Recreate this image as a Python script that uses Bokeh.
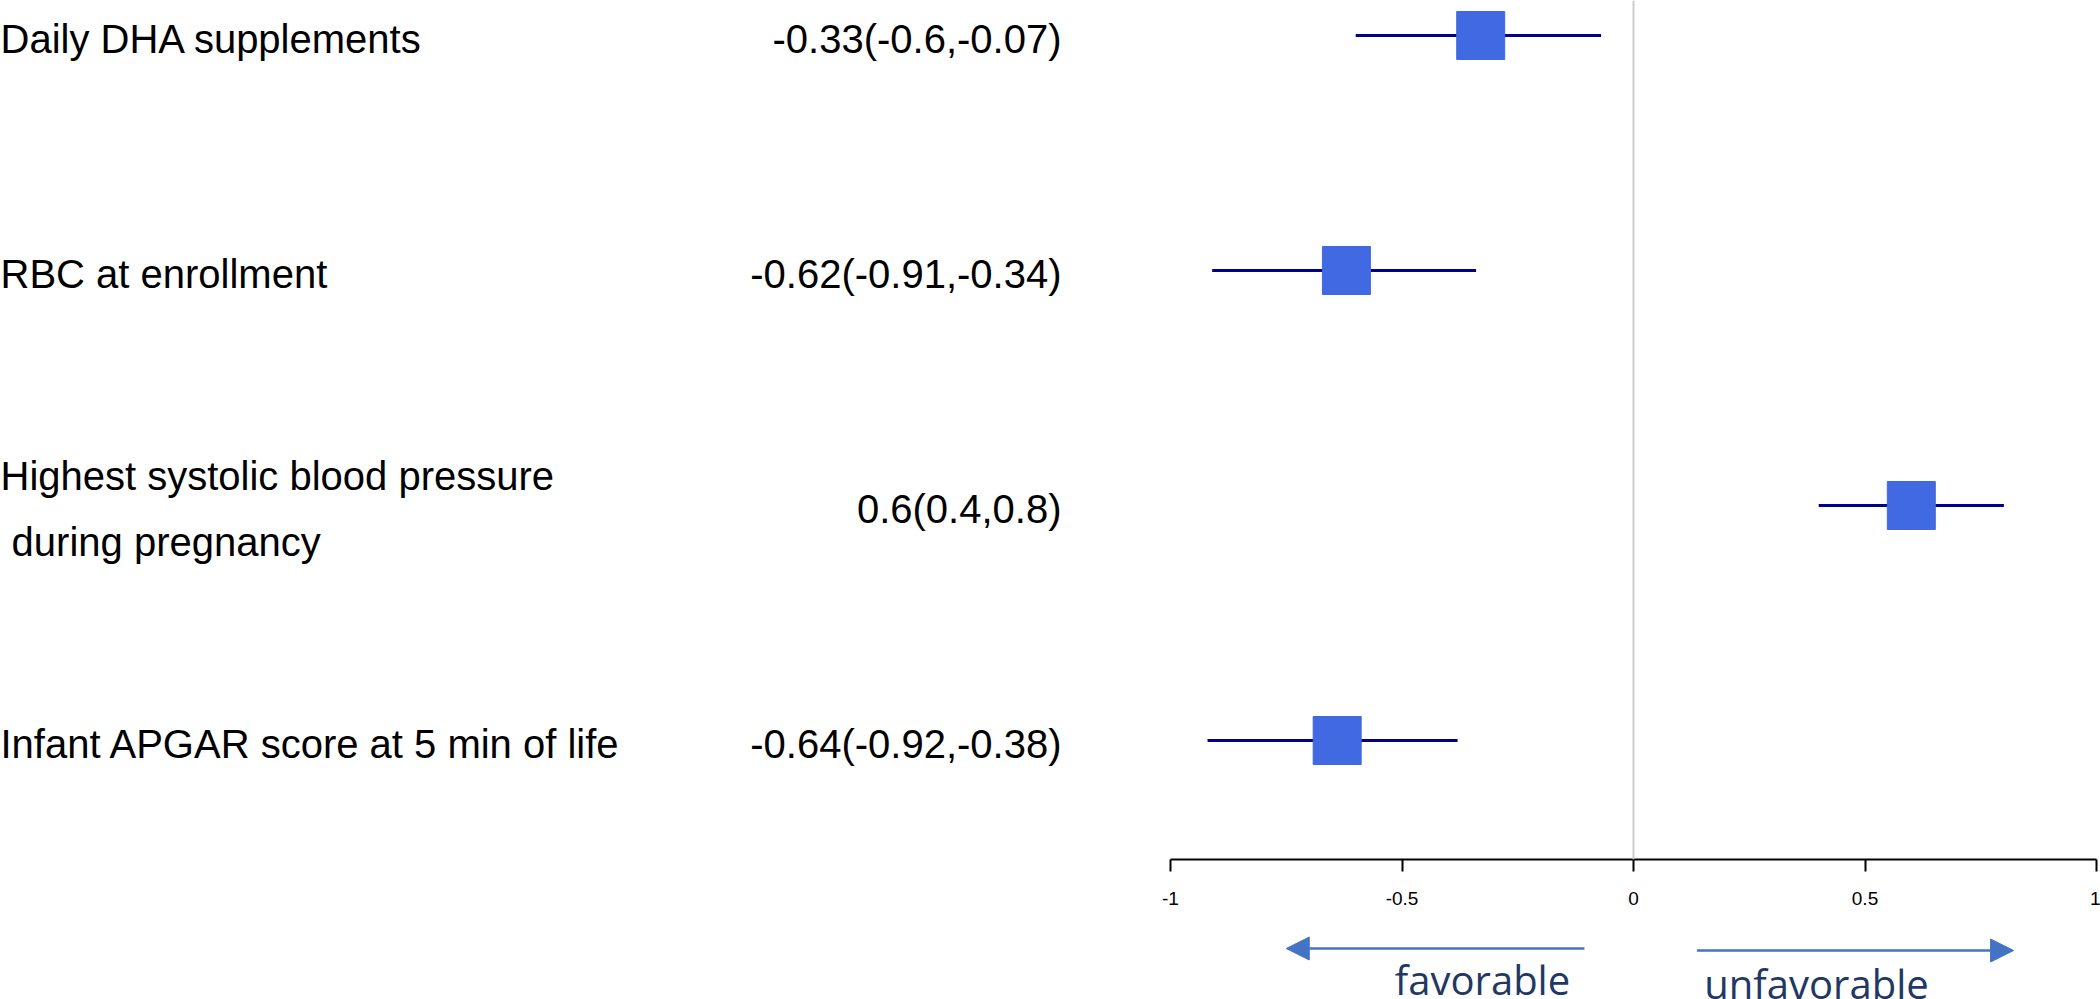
from bokeh.plotting import figure
from bokeh.layouts import column
from bokeh.models import Range1d, FixedTicker, Span, Arrow, NormalHead, Label, ColumnDataSource
from bokeh.core.properties import value
from bokeh.embed import file_html
from bokeh.resources import INLINE

# ---- data ----
variables = [
    "Daily DHA supplements",
    "RBC at enrollment",
    "Highest systolic blood pressure\n\u00a0during pregnancy",
    "Infant APGAR score at 5 min of life",
]
estimates = [-0.33, -0.62, 0.6, -0.64]
lower = [-0.6, -0.91, 0.4, -0.92]
upper = [-0.07, -0.34, 0.8, -0.38]
ci_labels = ["-0.33(-0.6,-0.07)", "-0.62(-0.91,-0.34)", "0.6(0.4,0.8)", "-0.64(-0.92,-0.38)"]
tick_values = [-1, -0.5, 0, 0.5, 1]
tick_labels = ["-1", "-0.5", "0", "0.5", "1"]
direction_labels = ["favorable", "unfavorable"]
favorable_span = [-0.106, -0.75]     # arrow start, arrow tip (effect units)
unfavorable_span = [0.137, 0.821]

# ---- layout constants (pixels) ----
W, H = 2100, 999
H1 = 919            # height of the main plot (frame + axis)
FRAME_H = 859
PX = 463.0          # pixels per effect unit
ZERO_X = 1633.0     # canvas x of effect 0
ROW0 = 35.0         # canvas y of first row
ROW_STEP = 235.0


def dx(cx):
    return (cx - ZERO_X) / PX


def dy(cy):
    return 1 + (cy - ROW0) / ROW_STEP


rows = list(range(1, len(variables) + 1))

x_range = Range1d(dx(0), dx(W))
y_range = Range1d(dy(FRAME_H), dy(0))

p = figure(width=W, height=H1, x_range=x_range, y_range=y_range,
           output_backend="svg", toolbar_location=None,
           min_border_left=0, min_border_right=0, min_border_top=0,
           min_border_bottom=H1 - FRAME_H, y_axis_location=None)
p.outline_line_color = None
p.xgrid.visible = False
p.ygrid.visible = False
p.background_fill_color = "white"
p.border_fill_color = "white"

# zero line
p.add_layout(Span(location=0, dimension="height", line_color="#cccccc", line_width=2))

src = ColumnDataSource(dict(
    row=rows, est=estimates, lo=lower, hi=upper, var=variables, ci=ci_labels,
    lx=[dx(0)] * len(rows), vx=[dx(1061)] * len(rows),
))

p.segment(x0="lo", x1="hi", y0="row", y1="row", source=src,
          line_color="#00008B", line_width=3)
p.scatter(x="est", y="row", source=src, marker="square", size=48,
          fill_color="#4169E1", line_color="#4169E1", line_width=1)

p.text(x="lx", y="row", text="var", source=src,
       text_font=value("Liberation Sans"), text_font_size="40px",
       text_align="left", text_baseline="middle", text_color="black",
       text_line_height=1.5, y_offset=3)
p.text(x="vx", y="row", text="ci", source=src,
       text_font=value("Liberation Sans"), text_font_size="40px",
       text_align="right", text_baseline="middle", text_color="black",
       y_offset=3)

# axis
ax = p.xaxis[0]
ax.ticker = FixedTicker(ticks=tick_values)
ax.major_label_overrides = {t: l for t, l in zip(tick_values, tick_labels)}
ax.bounds = (-1, 1)
ax.minor_tick_line_color = None
ax.major_tick_in = 0
ax.major_tick_out = 12
ax.major_tick_line_width = 2
ax.axis_line_width = 2
ax.axis_line_color = "black"
ax.major_tick_line_color = "black"
ax.major_label_text_font = "Liberation Sans"
ax.major_label_text_font_size = "19px"
ax.major_label_text_color = "black"
ax.major_label_standoff = 20

# ---- strip with direction arrows ----
q = figure(width=W, height=H - H1, x_range=x_range, y_range=Range1d(H, H1),
           output_backend="svg", toolbar_location=None,
           min_border_left=0, min_border_right=0, min_border_top=0, min_border_bottom=0,
           x_axis_location=None, y_axis_location=None)
q.outline_line_color = None
q.xgrid.visible = False
q.ygrid.visible = False
q.background_fill_color = "white"
q.border_fill_color = "white"

ac = "#4472C4"
q.add_layout(Arrow(end=NormalHead(size=23, fill_color=ac, line_color=ac),
                   x_start=favorable_span[0], x_end=favorable_span[1],
                   y_start=948, y_end=948, line_color=ac, line_width=2.5))
q.add_layout(Arrow(end=NormalHead(size=23, fill_color=ac, line_color=ac),
                   x_start=unfavorable_span[0], x_end=unfavorable_span[1],
                   y_start=950, y_end=950, line_color=ac, line_width=2.5))
q.add_layout(Label(x=dx(1482), y=951, text=direction_labels[0],
                   text_align="center", text_baseline="top",
                   text_font="Open Sans", text_font_size="40px", text_color="#1F3864"))
q.add_layout(Label(x=dx(1816), y=955, text=direction_labels[1],
                   text_align="center", text_baseline="top",
                   text_font="Open Sans", text_font_size="40px", text_color="#1F3864"))

layout = column(p, q, spacing=0)
open("out.html", "w").write(file_html(layout, INLINE))
